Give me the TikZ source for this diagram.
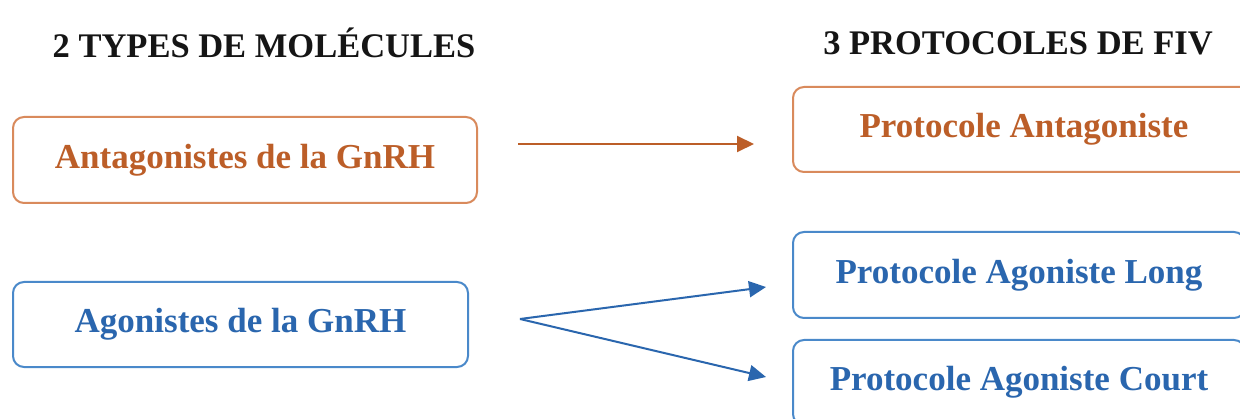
\documentclass[tikz,border=0pt]{standalone}
\usepackage{fontspec}
\setmainfont{Liberation Serif}
\usetikzlibrary{arrows.meta}
\definecolor{orT}{HTML}{BC5E28}
\definecolor{orB}{HTML}{D98A5C}
\definecolor{blT}{HTML}{2A66AE}
\definecolor{blB}{HTML}{4A89CA}
\definecolor{hd}{HTML}{151515}
\begin{document}
\begin{tikzpicture}[x=1pt,y=1pt,
  box/.style={draw, rounded corners=11pt, line width=2pt, inner sep=0pt,
    font=\bfseries\fontsize{35}{40}\selectfont},
  obox/.style={box, draw=orB, text=orT},
  bbox/.style={box, draw=blB, text=blT},
  head/.style={font=\bfseries\fontsize{34.5}{40}\selectfont, text=hd, inner sep=0pt},
  oarr/.style={draw=orT, line width=2pt, -{Triangle[length=17pt,width=16pt]}},
  barr/.style={draw=blT, line width=2pt, -{Triangle[length=17pt,width=16pt]}}]
\useasboundingbox (0,0) rectangle (1240,418);
\clip (0,0) rectangle (1240,418);
\fill[white] (0,0) rectangle (1240,418);
\node[head] (h1) at (264,375) {2 TYPES DE MOLÉCULES};
\node[head] (h2) at (1018,375) {3 PROTOCOLES DE FIV};
\node[obox, minimum width=464pt, minimum height=86pt] (ant) at (245,258) {Antagonistes de la GnRH};
\node[bbox, minimum width=455pt, minimum height=85pt] (ago) at (240.5,93.5) {Agonistes de la GnRH};
\node[obox, minimum width=462pt, minimum height=85pt] (pa) at (1024,288.5) {Protocole Antagoniste};
\node[bbox, minimum width=452pt, minimum height=86pt] (pal) at (1019,143) {Protocole Agoniste Long};
\node[bbox, minimum width=452pt, minimum height=85pt] (pac) at (1019,35.5) {Protocole Agoniste Court};
\coordinate (a1) at (518,274);
\coordinate (a2) at (754,274);
\coordinate (b0) at (520,99);
\coordinate (b1) at (766,131);
\coordinate (b2) at (766,41);
\draw[oarr] (a1) -- (a2);
\draw[barr] (b0) -- (b1);
\draw[barr] (b0) -- (b2);
\end{tikzpicture}
\end{document}
